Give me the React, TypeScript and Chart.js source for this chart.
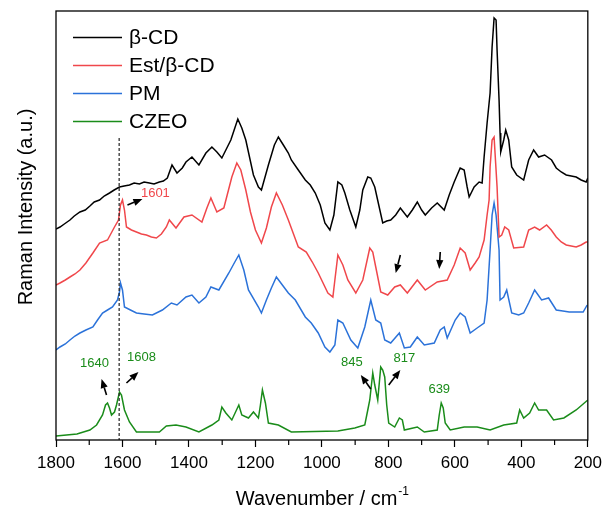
import { useEffect, useRef } from 'react';
import { Chart, registerables } from 'chart.js';

Chart.register(...registerables);

const SERIES_LABELS = ['β-CD', 'Est/β-CD', 'PM', 'CZEO'];
const SERIES_COLORS = ['#000000', '#f0474b', '#2b72d9', '#1a8c1a'];

const X_TICKS = [1800, 1600, 1400, 1200, 1000, 800, 600, 400, 200];
const X_MINOR_TICKS = [1700, 1500, 1300, 1100, 900, 700, 500, 300];

const bcdWavenumber = [1800, 1788, 1775, 1758, 1745, 1728, 1712, 1698, 1685, 1669, 1655, 1639, 1625, 1609, 1595, 1579, 1565, 1549, 1535, 1519, 1505, 1489, 1477, 1465, 1451, 1436, 1420, 1409, 1391, 1370, 1349, 1331, 1316, 1301, 1274, 1262, 1253, 1241, 1229, 1206, 1191, 1182, 1161, 1143, 1131, 1116, 1101, 1092, 1071, 1050, 1035, 1020, 1005, 991, 976, 964, 952, 940, 931, 916, 898, 886, 877, 862, 853, 841, 829, 817, 805, 793, 778, 764, 743, 728, 713, 700, 689, 670, 653, 632, 617, 602, 584, 572, 563, 557, 542, 527, 518, 512, 503, 494, 488, 482, 476, 473, 467, 464, 462, 453, 447, 438, 429, 414, 393, 378, 363, 348, 330, 309, 295, 280, 265, 250, 235, 220, 205, 200];
const bcdIntensity = [211, 213, 216, 220, 224, 228, 230, 234, 238, 240, 244, 247, 250, 253, 254, 255, 257, 256, 258, 257, 256, 258, 259, 262, 275, 267, 272, 278, 283, 275, 287, 293, 288, 282, 300, 312, 321, 312, 300, 265, 253, 250, 275, 295, 303, 295, 287, 280, 270, 260, 255, 247, 235, 217, 210, 225, 258, 255, 247, 230, 213, 230, 250, 263, 262, 253, 235, 217, 219, 220, 225, 232, 223, 230, 238, 230, 225, 232, 237, 230, 245, 258, 272, 270, 253, 243, 253, 258, 257, 283, 317, 347, 393, 422, 420, 390, 340, 307, 288, 300, 310, 300, 273, 265, 260, 280, 290, 283, 285, 280, 272, 268, 265, 264, 263, 260, 258, 262];

const estWavenumber = [1800, 1788, 1772, 1758, 1743, 1728, 1710, 1689, 1669, 1645, 1624, 1612, 1606, 1600, 1594, 1588, 1573, 1558, 1543, 1528, 1513, 1498, 1483, 1468, 1459, 1439, 1415, 1391, 1361, 1346, 1334, 1316, 1295, 1271, 1256, 1244, 1229, 1215, 1200, 1182, 1167, 1152, 1137, 1119, 1101, 1071, 1047, 1029, 1011, 982, 967, 961, 952, 937, 922, 898, 877, 856, 847, 838, 823, 802, 781, 764, 743, 713, 689, 653, 623, 602, 584, 569, 554, 539, 527, 512, 503, 497, 494, 488, 482, 480, 473, 467, 459, 450, 438, 423, 393, 378, 360, 345, 324, 310, 295, 280, 265, 250, 235, 220, 205, 200];
const estIntensity = [155, 157, 160, 163, 166, 170, 177, 187, 197, 200, 213, 220, 235, 240, 230, 213, 210, 208, 206, 205, 203, 202, 206, 213, 220, 212, 223, 225, 218, 232, 242, 228, 232, 263, 277, 270, 250, 228, 210, 197, 212, 233, 247, 235, 220, 193, 188, 178, 167, 147, 143, 160, 185, 175, 160, 147, 160, 192, 188, 173, 148, 145, 153, 155, 147, 160, 150, 158, 160, 175, 192, 187, 170, 177, 183, 200, 225, 240, 273, 300, 303, 303, 253, 203, 205, 213, 210, 192, 193, 210, 213, 210, 215, 210, 203, 198, 195, 194, 193, 195, 198, 198];

const pmWavenumber = [1800, 1788, 1772, 1758, 1743, 1728, 1710, 1689, 1675, 1660, 1645, 1630, 1615, 1609, 1606, 1600, 1594, 1576, 1558, 1535, 1510, 1480, 1453, 1436, 1409, 1391, 1370, 1349, 1334, 1310, 1280, 1262, 1250, 1235, 1221, 1191, 1182, 1167, 1152, 1137, 1119, 1101, 1080, 1050, 1032, 1011, 991, 976, 961, 952, 937, 913, 892, 871, 853, 838, 823, 811, 793, 767, 752, 734, 713, 692, 662, 644, 632, 623, 599, 584, 569, 554, 533, 512, 503, 494, 488, 482, 476, 467, 464, 453, 444, 429, 408, 393, 378, 360, 339, 318, 295, 275, 256, 235, 214, 202, 200];
const pmIntensity = [90, 93, 96, 100, 104, 107, 110, 113, 120, 127, 130, 133, 140, 148, 157, 150, 133, 130, 127, 126, 125, 130, 137, 135, 143, 145, 137, 143, 153, 150, 167, 178, 185, 170, 150, 133, 127, 140, 152, 163, 155, 147, 140, 123, 117, 107, 93, 88, 95, 120, 117, 100, 92, 113, 140, 120, 117, 100, 97, 107, 92, 93, 103, 95, 97, 110, 113, 102, 120, 127, 123, 107, 112, 117, 140, 190, 225, 237, 225, 190, 140, 143, 150, 127, 125, 127, 137, 150, 140, 142, 130, 129, 128, 128, 128, 135, 135];

const czeoWavenumber = [1800, 1737, 1698, 1678, 1660, 1651, 1645, 1639, 1633, 1624, 1618, 1609, 1603, 1594, 1579, 1558, 1489, 1468, 1439, 1409, 1370, 1331, 1310, 1301, 1289, 1271, 1250, 1241, 1221, 1206, 1191, 1185, 1179, 1170, 1161, 1131, 1092, 952, 901, 871, 862, 856, 847, 841, 832, 823, 817, 811, 805, 799, 781, 767, 758, 752, 713, 692, 653, 647, 641, 635, 629, 614, 572, 533, 494, 453, 414, 405, 393, 375, 360, 348, 324, 303, 272, 235, 200];
const czeoIntensity = [4, 6, 10, 15, 25, 35, 37, 32, 25, 28, 35, 48, 45, 30, 18, 8, 8, 14, 15, 13, 8, 15, 20, 33, 27, 20, 35, 25, 22, 28, 22, 35, 50, 37, 17, 15, 8, 9, 12, 15, 30, 40, 67, 55, 40, 73, 70, 63, 35, 17, 13, 22, 20, 10, 13, 8, 10, 25, 37, 32, 17, 10, 13, 13, 10, 15, 17, 30, 22, 27, 37, 30, 30, 20, 22, 30, 40];

const DASH_WAVENUMBER = 1610;
const DASH_TOP = 302;

const labelTexts = ['1601', '1640', '1608', '845', '817', '639'];
const labelWavenumber = [1501, 1684, 1543, 910, 752, 647];
const labelIntensity = [247, 77, 83, 78, 82, 51];
const labelSeries = [1, 3, 3, 3, 3, 3];

const arrowTailWavenumber = [1585, 764, 644, 1648, 1588, 853, 799];
const arrowTailIntensity = [235, 185, 188, 45, 57, 51, 55];
const arrowHeadWavenumber = [1540, 778, 647, 1663, 1552, 883, 764];
const arrowHeadIntensity = [241, 167, 171, 61, 68, 65, 70];

const FONT = '"Liberation Sans", Arial, sans-serif';

function toPoints(xs: number[], ys: number[]) {
  return xs.map((x, i) => ({ x, y: ys[i] }));
}

const decorPlugin = {
  id: 'decor',
  afterDatasetsDraw(chart: any) {
    const { ctx, chartArea, scales } = chart;
    const x = scales.x;
    const y = scales.y;
    ctx.save();
    ctx.setLineDash([3, 2]);
    ctx.strokeStyle = '#222';
    ctx.lineWidth = 1.2;
    const dx = x.getPixelForValue(DASH_WAVENUMBER);
    ctx.beginPath();
    ctx.moveTo(dx, y.getPixelForValue(DASH_TOP));
    ctx.lineTo(dx, y.getPixelForValue(0));
    ctx.stroke();
    ctx.setLineDash([]);

    ctx.fillStyle = '#000';
    ctx.strokeStyle = '#000';
    for (let i = 0; i < arrowTailWavenumber.length; i++) {
      const x1 = x.getPixelForValue(arrowTailWavenumber[i]);
      const y1 = y.getPixelForValue(arrowTailIntensity[i]);
      const x2 = x.getPixelForValue(arrowHeadWavenumber[i]);
      const y2 = y.getPixelForValue(arrowHeadIntensity[i]);
      const ang = Math.atan2(y2 - y1, x2 - x1);
      const headLen = 9;
      const headW = 3.6;
      const bx = x2 - headLen * Math.cos(ang);
      const by = y2 - headLen * Math.sin(ang);
      ctx.lineWidth = 1.6;
      ctx.beginPath();
      ctx.moveTo(x1, y1);
      ctx.lineTo(bx, by);
      ctx.stroke();
      ctx.beginPath();
      ctx.moveTo(x2, y2);
      ctx.lineTo(bx + headW * Math.sin(ang), by - headW * Math.cos(ang));
      ctx.lineTo(bx - headW * Math.sin(ang), by + headW * Math.cos(ang));
      ctx.closePath();
      ctx.fill();
    }

    ctx.font = `13px ${FONT}`;
    ctx.textAlign = 'center';
    ctx.textBaseline = 'middle';
    for (let i = 0; i < labelTexts.length; i++) {
      ctx.fillStyle = SERIES_COLORS[labelSeries[i]];
      ctx.fillText(labelTexts[i], x.getPixelForValue(labelWavenumber[i]), y.getPixelForValue(labelIntensity[i]));
    }

    ctx.font = `21px ${FONT}`;
    ctx.textAlign = 'left';
    for (let i = 0; i < SERIES_LABELS.length; i++) {
      const ly = chartArea.top + 26.5 + i * 28;
      ctx.strokeStyle = SERIES_COLORS[i];
      ctx.lineWidth = 1.5;
      ctx.beginPath();
      ctx.moveTo(chartArea.left + 17, ly);
      ctx.lineTo(chartArea.left + 66, ly);
      ctx.stroke();
      ctx.fillStyle = '#000';
      ctx.fillText(SERIES_LABELS[i], chartArea.left + 73, ly + 1);
    }
    ctx.restore();
  },
  afterDraw(chart: any) {
    const { ctx, chartArea, scales } = chart;
    const x = scales.x;
    ctx.save();
    ctx.strokeStyle = '#000';
    ctx.lineWidth = 1.3;
    ctx.strokeRect(chartArea.left, chartArea.top, chartArea.right - chartArea.left, chartArea.bottom - chartArea.top);
    ctx.lineWidth = 1.2;
    for (const v of X_MINOR_TICKS) {
      const px = x.getPixelForValue(v);
      ctx.beginPath();
      ctx.moveTo(px, chartArea.bottom);
      ctx.lineTo(px, chartArea.bottom + 5);
      ctx.stroke();
    }
    ctx.fillStyle = '#000';
    ctx.textBaseline = 'alphabetic';
    ctx.textAlign = 'left';
    const main = 'Wavenumber / cm';
    const sup = '-1';
    ctx.font = `20px ${FONT}`;
    const w1 = ctx.measureText(main).width;
    ctx.font = `12px ${FONT}`;
    const w2 = ctx.measureText(sup).width;
    const cx = (chartArea.left + chartArea.right) / 2;
    const startX = cx - (w1 + w2) / 2;
    const baseY = 505;
    ctx.font = `20px ${FONT}`;
    ctx.fillText(main, startX, baseY);
    ctx.font = `12px ${FONT}`;
    ctx.fillText(sup, startX + w1 + 1, baseY - 10);
    ctx.font = `20px ${FONT}`;
    ctx.textAlign = 'center';
    ctx.textBaseline = 'middle';
    ctx.translate(26, 207);
    ctx.rotate(-Math.PI / 2);
    ctx.fillText('Raman Intensity (a.u.)', 0, 0);
    ctx.restore();
  },
};

export default function App() {
  const canvasRef = useRef<HTMLCanvasElement | null>(null);

  useEffect(() => {
    document.body.style.margin = '0';
    const canvas = canvasRef.current;
    if (!canvas) return;
    const seriesX = [bcdWavenumber, estWavenumber, pmWavenumber, czeoWavenumber];
    const seriesY = [bcdIntensity, estIntensity, pmIntensity, czeoIntensity];
    const chart = new Chart(canvas, {
      type: 'line',
      data: {
        datasets: SERIES_LABELS.map((label, i) => ({
          label,
          data: toPoints(seriesX[i], seriesY[i]),
          borderColor: SERIES_COLORS[i],
          backgroundColor: SERIES_COLORS[i],
          borderWidth: 1.5,
          pointRadius: 0,
          tension: 0,
          fill: false,
        })),
      },
      options: {
        animation: false,
        responsive: true,
        maintainAspectRatio: false,
        layout: { padding: { left: 0, top: 11, right: 16, bottom: 0 } },
        plugins: {
          legend: { display: false },
          tooltip: { enabled: false },
        },
        scales: {
          x: {
            type: 'linear',
            reverse: true,
            min: 200,
            max: 1800,
            afterBuildTicks: (scale: any) => {
              scale.ticks = X_TICKS.map((v) => ({ value: v }));
            },
            afterFit: (scale: any) => {
              scale.height = 66;
            },
            ticks: {
              color: '#000',
              font: { family: FONT, size: 17 },
              padding: 6,
              maxRotation: 0,
              autoSkip: false,
              callback: (value: any) => String(value),
            },
            grid: {
              display: true,
              drawOnChartArea: false,
              drawTicks: true,
              tickLength: 7,
              tickColor: '#000',
              tickWidth: 1.2,
            },
            border: { display: false },
            title: { display: false },
          },
          y: {
            type: 'linear',
            min: 0,
            max: 429,
            afterFit: (scale: any) => {
              scale.width = 56;
            },
            ticks: { display: false },
            grid: { display: false, drawTicks: false },
            border: { display: false },
            title: { display: false },
          },
        },
      },
      plugins: [decorPlugin],
    });
    return () => chart.destroy();
  }, []);

  return (
    <div style={{ position: 'relative', width: 608, height: 506 }}>
      <canvas ref={canvasRef} />
    </div>
  );
}
